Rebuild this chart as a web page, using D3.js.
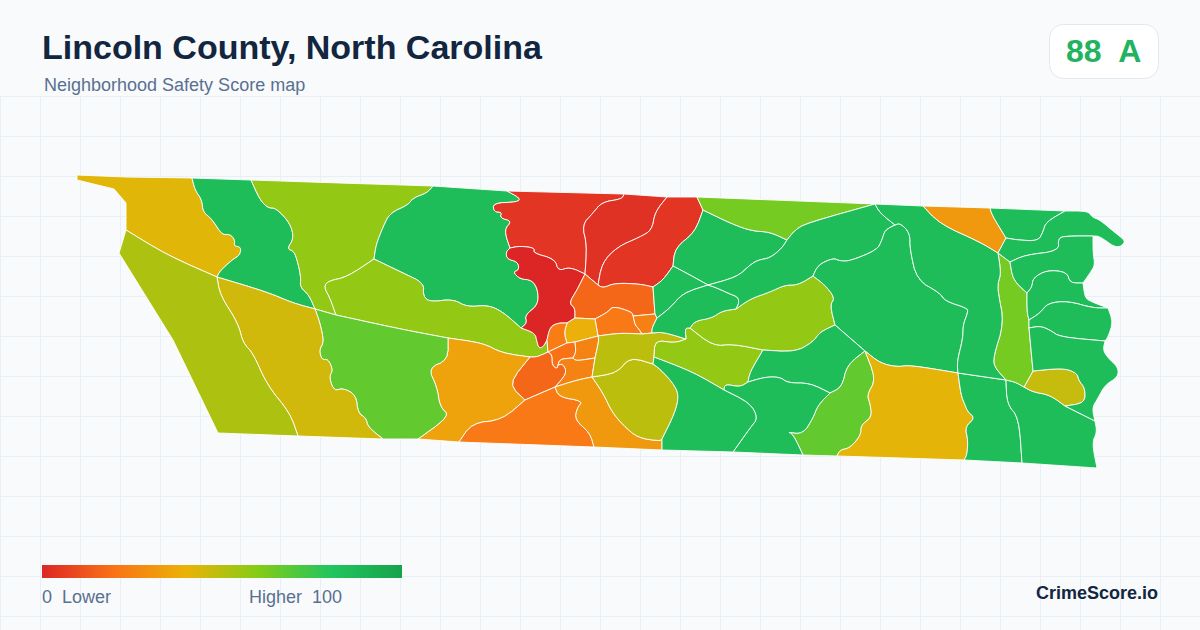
<!DOCTYPE html>
<html>
<head>
<meta charset="utf-8">
<script src="https://d3js.org/d3.v7.min.js"></script>
<style>
  html, body { margin: 0; padding: 0; background: #f8fafc; }
  svg { display: block; }
  text { font-family: "Liberation Sans", Arial, sans-serif; white-space: pre; }
</style>
</head>
<body>
<div id="chart"></div>
<script>
// legend / colour ramp
const legendStops = [0, 20, 40, 60, 80, 100];
const legendColors = ["#dc2626", "#f97316", "#eab308", "#84cc16", "#22c55e", "#16a34a"];

// ---- tract boundaries. X_Y is the line between tracts X and Y ----
// outer edge
const edge_A = [[126,230],[126,203],[114,189],[77,180],[77,175],[126,177],[192,178]];
const top_B = [[192,178],[251,180]];
const top_C = [[251,180],[340,183],[433,186]];
const top_D = [[433,186],[507,191]];
const top_F = [[507,191],[624,194]];
const top_H = [[624,194],[667,197]];
const top_I = [[667,197],[697,197]];
const top_AG = [[697,197],[875,204]];
const top_AT = [[875,204],[923,206]];
const top_AU = [[923,206],[990,208]];
const top_V1 = [[990,208],[1065,211]];
const edge_V2 = [[1065,211],[1088,211],[1092,217],[1100,220],[1113,231],[1122,238],[1125,242],[1120,247],[1113,246],[1105,240],[1098,236],[1093,236]];
const edge_AW = [[1093,236],[1093,253],[1095,265],[1090,273],[1083,283]];
const edge_AX = [[1083,283],[1085,298],[1092,302],[1108,308]];
const edge_AY = [[1108,308],[1113,322],[1108,337],[1105,341]];
const edge_AZ = [[1105,341],[1103,350],[1108,358],[1118,367],[1118,377],[1105,385],[1098,398],[1092,408],[1095,421]];
const edge_AQ = [[1095,421],[1097,432],[1092,443],[1097,468]];
const bot_AQ = [[1097,468],[1022,463]];
const bot_AP = [[1022,463],[964,460]];
const bot_AO = [[964,460],[837,456]];
const bot_AL = [[837,456],[803,455]];
const bot_AM = [[803,455],[733,452]];
const bot_AN = [[733,452],[662,450]];
const bot_Y = [[662,450],[594,447]];
const bot_X = [[594,447],[459,442]];
const bot_T = [[459,442],[418,439]];
const bot_U = [[418,439],[383,439]];
const bot_V = [[383,439],[298,436]];
const bot_W = [[298,436],[218,433]];
const edge_W = [[218,433],[173,340],[119,253],[123,240],[126,230]];

// west side
const A_W = [[126,230],[167,255],[217,277]];
const B_V = [[217,277],[267,292],[293,303],[315,309]];
const A_B = [[192,178],[195,190],[202,200],[203,212],[212,219],[222,235],[230,234],[235,240],[234,246],[241,247],[240,255],[232,260],[220,271],[217,277]];
const B_C = [[251,180],[260,200],[268,208],[276,208],[290,223],[294,238],[287,249],[294,251],[298,263],[301,278],[300,287],[309,295],[315,309]];
const V_W = [[217,277],[220,295],[238,323],[243,343],[253,353],[267,385],[290,413],[298,436]];
const U_V = [[315,309],[320,323],[324,342],[319,350],[322,360],[328,359],[333,370],[329,377],[334,391],[343,388],[356,395],[358,413],[366,418],[368,427],[383,439]];
const C_U = [[315,309],[336,315]];
const E_U = [[336,315],[400,329],[448,338]];
const E_T = [[448,338],[483,343],[502,353],[530,357]];
const E_S = [[530,357],[537,357],[548,352]];
const C_D = [[433,186],[427,193],[413,198],[408,205],[390,213],[383,227],[376,245],[374,259]];
const C_E = [[374,259],[347,277],[328,281],[324,287],[330,298],[336,315]];
const D_E = [[374,259],[403,273],[424,283],[423,296],[430,302],[453,299],[467,307],[488,305],[503,312],[521,328]];
const D_F = [[507,191],[520,198],[518,202],[493,203],[494,212],[502,212],[500,218],[512,221],[504,230],[510,248]];
const D_G = [[510,248],[506,252],[507,259],[518,262],[519,270],[513,272],[520,279],[532,280],[538,290],[538,305],[525,315],[527,323],[521,328]];
const F_G = [[510,248],[520,246],[535,248],[533,253],[555,259],[558,271],[570,267],[585,274]];
const E_G = [[521,328],[535,333],[537,342],[539,348],[543,347],[547,340]];
const E_N = [[547,340],[548,352]];
const G_N = [[547,340],[550,327],[558,323],[567,323]];
const G_M = [[567,323],[575,318]];
const G_J = [[575,318],[575,308],[569,303],[577,290],[585,274]];

// the red tracts and the town
const F_H = [[624,194],[622,199],[602,202],[593,213],[582,225],[587,245],[585,274]];
const H_I = [[667,197],[655,212],[652,230],[640,237],[617,247],[602,263],[598,285]];
const H_J = [[585,274],[598,285]];
const I_J = [[598,285],[603,288],[615,283],[640,284],[653,287]];
const I_AG = [[697,197],[703,210]];
const I_AE = [[703,210],[695,232],[675,248],[673,266]];
const I_AF = [[673,266],[663,280],[653,287]];
const J_AF = [[653,287],[655,314]];
const K_AF = [[655,314],[657,318]];
const J_K = [[633,316],[655,314]];
const J_L = [[595,319],[608,312],[613,306],[632,312],[633,316]];
const J_M = [[575,318],[595,319]];
const L_M = [[595,319],[598,336]];
const K_L = [[633,316],[635,325],[638,328],[642,334]];
const K_AH = [[657,318],[652,328],[652,333]];
const K_AA = [[652,333],[642,334]];
const L_AA = [[642,334],[620,333],[598,336]];
const M_N = [[567,323],[564,333],[567,343]];
const M_P = [[567,343],[575,342]];
const M_Q = [[575,342],[598,336]];
const N_P = [[548,352],[567,343]];
const P_Q = [[575,342],[576,352],[573,358]];
const P_R = [[573,358],[560,359],[558,365]];
const P_S = [[558,365],[557,369],[552,365],[552,355],[548,352]];
const Q_AA = [[598,336],[599,340],[595,358]];
const Q_R = [[595,358],[576,361],[573,358]];
const R_AA = [[595,358],[592,377]];
const R_Y = [[592,377],[577,380],[555,387]];
const R_S = [[555,387],[567,373],[563,364],[558,365]];
const S_X = [[555,387],[525,400]];
const S_T = [[525,400],[508,384],[530,357]];
const T_X = [[525,400],[502,420],[472,423],[459,442]];
const T_U = [[418,439],[450,416],[440,407],[437,387],[428,368],[448,360],[448,338]];
const AA_Z = [[592,377],[617,373],[630,357],[653,364]];
const AA_AN = [[653,364],[654,357]];
const AA_AB = [[654,357],[655,340],[675,343],[686,339]];
const AA_AH = [[686,339],[663,332],[652,333]];
const Z_AN = [[653,364],[660,369],[673,383],[679,395],[675,413],[662,439]];
const Y_Z = [[592,377],[603,393],[612,412],[623,425],[638,438],[660,441],[662,439]];
const Y_AN = [[662,439],[662,450]];
const X_Y = [[594,447],[590,433],[575,420],[577,408],[583,401],[559,397],[555,387]];

// east of the town
const AB_AH = [[686,339],[685,328],[690,328]];
const AB_AD = [[690,328],[713,346],[733,344],[763,350]];
const AB_AK = [[763,350],[750,372],[748,382]];
const AB_AM = [[748,382],[740,387],[725,384],[724,390]];
const AB_AN = [[724,390],[693,372],[654,357]];
const AD_AK = [[763,350],[795,352],[813,342],[820,332],[835,325]];
const AD_AJ = [[835,325],[830,305],[835,298],[825,285],[813,276]];
const AD_AI = [[813,276],[798,285],[785,285],[770,292],[750,299],[736,309]];
const AD_AH = [[736,309],[722,311],[712,318],[695,321],[690,328]];
const AE_AF = [[673,266],[690,275],[708,285]];
const AE_AI = [[708,285],[737,277],[750,265],[758,260],[770,258],[782,248],[787,240]];
const AE_AG = [[787,240],[770,232],[752,231],[732,224],[703,210]];
const AG_AI = [[875,204],[807,223],[795,230],[787,240]];
const AF_AH = [[708,285],[683,293],[670,308],[657,318]];
const AH_AI = [[736,309],[739,303],[738,297],[730,294],[717,288],[708,285]];
const AI_AT = [[875,204],[880,213],[895,225]];
const AI_AJ = [[895,225],[885,230],[882,240],[877,250],[850,261],[840,261],[833,258],[818,265],[813,276]];
const AJ_AK = [[835,325],[865,351]];
const AJ_AO = [[865,351],[880,363],[897,367],[910,365],[958,373]];
const AJ_AT = [[958,373],[957,362],[963,338],[963,325],[968,312],[967,308],[945,301],[940,293],[917,280],[910,250],[910,233],[900,223],[895,225]];
const AK_AM = [[748,382],[765,377],[780,377],[788,383],[810,383],[830,393]];
const AK_AL = [[830,393],[842,387],[847,365],[865,351]];
const AL_AO = [[865,351],[876,379],[867,395],[870,403],[872,417],[861,425],[861,435],[850,448],[840,450],[837,456]];
const AL_AM = [[803,455],[793,434],[787,432],[803,434],[813,418],[818,405],[830,393]];
const AM_AN = [[733,452],[750,428],[758,418],[750,403],[724,390]];
const AO_AP = [[958,373],[961,395],[965,405],[968,412],[975,418],[965,427],[968,440],[967,455],[964,460]];
const AP_AT = [[958,373],[1006,380]];
const AP_AQ = [[1006,380],[1007,404],[1019,418],[1022,463]];
const AQ_AZ = [[1095,421],[1065,406]];
const AQ_AR = [[1065,406],[1050,395],[1033,392],[1024,387]];
const AQ_AS = [[1024,387],[1015,382],[1006,380]];
const AR_AS = [[1024,387],[1033,371]];
const AR_AZ = [[1033,371],[1063,368],[1077,373],[1079,381],[1085,388],[1085,403],[1065,406]];
const AS_AT = [[1006,380],[995,368],[993,358],[1004,323],[998,292],[998,283],[1001,273],[998,253]];
const AS_V2 = [[998,253],[1010,262]];
const AS_AW = [[1010,262],[1013,280],[1027,293]];
const AS_AX = [[1027,293],[1027,312],[1029,320]];
const AS_AY = [[1029,320],[1029,328]];
const AS_AZ = [[1029,328],[1033,371]];
const AT_AU = [[923,206],[940,224],[980,242],[998,253]];
const AU_V1 = [[990,208],[992,215],[1006,238]];
const AU_V2 = [[1006,238],[998,253]];
const V1_V2 = [[1065,211],[1046,222],[1043,232],[1038,241],[1018,240],[1006,238]];
const V2_AW = [[1093,236],[1067,236],[1058,238],[1059,251],[1025,255],[1010,262]];
const AW_AX = [[1083,283],[1070,283],[1067,272],[1047,270],[1033,278],[1032,287],[1027,293]];
const AX_AY = [[1108,308],[1093,308],[1068,301],[1048,303],[1040,313],[1029,320]];
const AY_AZ = [[1105,341],[1060,337],[1050,330],[1040,326],[1029,328]];

// ---- tracts: score, and the lines round each one ----
const tractScores = [
  42, 85, 57, 85, 57, 4, 0, 3, 4, 17, 24, 22, 39, 23, 20, 25, 25, 17, 35, 67, 45, 52, 22, 32, 49,
  49, 57, 57, 85, 85, 63, 85, 85, 85, 85, 67, 85, 85, 41, 85, 85, 47, 63, 85, 32, 85, 85, 85, 85, 85, 85
];
const tractBounds = [
  [edge_A, top_B.slice(0, 1), A_B, A_W],                         // A
  [top_B, B_C, B_V, A_B],                                        // B
  [top_C, C_D, C_E, C_U, B_C],                                   // C
  [top_D, D_F, D_G, D_E, C_D],                                   // D
  [C_E, D_E, E_G, E_N, E_S, E_T, E_U],                           // E
  [top_F, F_H, F_G, D_F],                                        // F
  [F_G, G_J, G_M, G_N, E_G, D_G],                                // G
  [top_H, H_I, H_J, F_H],                                        // H
  [top_I, I_AG, I_AE, I_AF, I_J, H_I],                           // I
  [H_J, I_J, J_AF, J_K, J_L, J_M, G_J],                          // J
  [J_K, K_AF, K_AH, K_AA, K_L],                                  // K
  [J_L, K_L, L_AA, L_M],                                         // L
  [G_M, J_M, L_M, M_Q, M_P, M_N],                                // M
  [E_N, G_N, M_N, N_P],                                          // N
  [N_P, M_P, P_Q, P_R, P_S],                                     // P
  [M_Q, Q_AA, Q_R, P_Q],                                         // Q
  [P_R, R_S, R_Y, R_AA, Q_R],                                    // R
  [E_S, P_S, R_S, S_X, S_T],                                     // S
  [E_T, S_T, T_X, bot_T, T_U],                                   // T
  [C_U, E_U, T_U, bot_U, U_V],                                   // U
  [B_V, U_V, bot_V, V_W],                                        // V
  [A_W, V_W, bot_W, edge_W],                                     // W
  [bot_X, T_X, S_X, X_Y],                                        // X
  [Y_Z, Y_AN, bot_Y, X_Y, R_Y],                                  // Y
  [AA_Z, Z_AN, Y_Z],                                             // Z
  [K_AA, L_AA, Q_AA, R_AA, AA_Z, AA_AN, AA_AB, AA_AH],           // AA
  [AA_AB, AB_AH, AB_AD, AB_AK, AB_AM, AB_AN],                    // AB
  [AB_AD, AD_AK, AD_AJ, AD_AI, AD_AH],                           // AD
  [I_AE, AE_AF, AE_AI, AE_AG],                                   // AE
  [AE_AF, AF_AH, K_AF, J_AF, I_AF],                              // AF
  [top_AG, AG_AI, AE_AG, I_AG],                                  // AG
  [AF_AH, K_AH, AA_AH, AB_AH, AD_AH, AH_AI],                     // AH
  [AE_AI, AG_AI, AI_AT, AI_AJ, AD_AI, AH_AI],                    // AI
  [AI_AJ, AD_AJ, AJ_AK, AJ_AO, AJ_AT],                           // AJ
  [AB_AK, AK_AM, AK_AL, AJ_AK, AD_AK],                           // AK
  [AK_AL, AL_AO, bot_AL, AL_AM],                                 // AL
  [AK_AM, AL_AM, bot_AM, AM_AN, AB_AM],                          // AM
  [AB_AN, AA_AN, Z_AN, Y_AN, bot_AN, AM_AN],                     // AN
  [AJ_AO, AO_AP, bot_AO, AL_AO],                                 // AO
  [AP_AT, AP_AQ, bot_AP, AO_AP],                                 // AP
  [AP_AQ, bot_AQ, edge_AQ, AQ_AZ, AQ_AR, AQ_AS],                 // AQ
  [AQ_AR, AR_AS, AR_AZ],                                         // AR
  [AS_AT, AS_V2, AS_AW, AS_AX, AS_AY, AS_AZ, AR_AS, AQ_AS],      // AS
  [top_AT, AT_AU, AS_AT, AP_AT, AJ_AT, AI_AT],                   // AT
  [top_AU, AU_V1, AU_V2, AT_AU],                                 // AU
  [top_V1, V1_V2, AU_V1],                                        // V1
  [edge_V2, V2_AW, AS_V2, AU_V2, V1_V2],                         // V2
  [edge_AW, AW_AX, AS_AW, V2_AW],                                // AW
  [edge_AX, AX_AY, AS_AX, AW_AX],                                // AX
  [edge_AY, AY_AZ, AS_AY, AX_AY],                                // AY
  [edge_AZ, AQ_AZ, AR_AZ, AS_AZ, AY_AZ]                          // AZ
];
// these two have real corners, keep them sharp
const sharpLines = [edge_A, edge_W];

const width = 1200, height = 630;

const svg = d3.select("#chart").append("svg")
  .attr("width", width)
  .attr("height", height);

svg.append("rect")
  .attr("width", width)
  .attr("height", height)
  .attr("fill", "#f8fafc");

// background grid, only below the header
const grid = svg.append("g").attr("stroke", "#e9eff6").attr("stroke-width", 1);
grid.selectAll("line.v").data(d3.range(0, width + 1, 40)).enter().append("line")
  .attr("x1", d => d + 0.5).attr("x2", d => d + 0.5)
  .attr("y1", 96).attr("y2", height);
grid.selectAll("line.h").data(d3.range(96, height, 40)).enter().append("line")
  .attr("x1", 0).attr("x2", width)
  .attr("y1", d => d + 0.5).attr("y2", d => d + 0.5);

const color = d3.scaleLinear().domain(legendStops).range(legendColors).interpolate(d3.interpolateRgb);

// round the kinks of a line, ends stay put so neighbours still meet
function soften(line, passes) {
  let pts = line;
  for (let n = 0; n < passes; n++) {
    const out = [pts[0]];
    for (let i = 0; i < pts.length - 1; i++) {
      const a = pts[i], b = pts[i + 1];
      if (i > 0) out.push([a[0] + (b[0] - a[0]) * 0.25, a[1] + (b[1] - a[1]) * 0.25]);
      if (i < pts.length - 2) out.push([a[0] + (b[0] - a[0]) * 0.75, a[1] + (b[1] - a[1]) * 0.75]);
    }
    out.push(pts[pts.length - 1]);
    pts = out;
  }
  return pts;
}

// join the boundary lines into a closed ring, flipping each line as needed
function dist(a, b) { return Math.hypot(a[0] - b[0], a[1] - b[1]); }
function stitch(parts) {
  let ring = [];
  parts.forEach((p, i) => {
    let line = sharpLines.includes(p) ? p.slice() : soften(p, 2);
    if (i === 0) {
      const next = parts[1];
      const nearEnd = Math.min(dist(line[line.length - 1], next[0]), dist(line[line.length - 1], next[next.length - 1]));
      const nearStart = Math.min(dist(line[0], next[0]), dist(line[0], next[next.length - 1]));
      if (nearStart < nearEnd) line.reverse();
    } else {
      const last = ring[ring.length - 1];
      if (dist(line[line.length - 1], last) < dist(line[0], last)) line.reverse();
    }
    ring = ring.concat(line);
  });
  ring.push(ring[0]);
  return ring;
}

const tracts = tractBounds.map((parts, i) => ({
  type: "Feature",
  properties: { score: tractScores[i] },
  geometry: { type: "Polygon", coordinates: [stitch(parts)] }
}));

const path = d3.geoPath(d3.geoIdentity());

svg.append("g").selectAll("path")
  .data(tracts)
  .enter().append("path")
    .attr("d", path)
    .attr("fill", d => color(d.properties.score))
    .attr("stroke", "#ffffff")
    .attr("stroke-width", 0.9)
    .attr("stroke-linejoin", "round");

// header
svg.append("text").attr("x", 42).attr("y", 59)
  .attr("font-size", 34).attr("font-weight", 700).attr("fill", "#12263f")
  .text("Lincoln County, North Carolina");
svg.append("text").attr("x", 44).attr("y", 91)
  .attr("font-size", 18).attr("fill", "#5a7090")
  .text("Neighborhood Safety Score map");

// score badge
svg.append("rect")
  .attr("x", 1049.5).attr("y", 24.5).attr("width", 109).attr("height", 54).attr("rx", 14)
  .attr("fill", "#ffffff").attr("stroke", "#e2e8f0");
svg.append("text").attr("x", 1066).attr("y", 62)
  .attr("font-size", 32).attr("font-weight", 700).attr("fill", "#22b35e")
  .text("88  A");

// legend
const legendX = d3.scaleLinear().domain([0, 100]).range([42, 402]);
const grad = svg.append("defs").append("linearGradient").attr("id", "ramp");
grad.selectAll("stop").data(legendStops).enter().append("stop")
  .attr("offset", d => d + "%")
  .attr("stop-color", d => color(d));
svg.append("rect")
  .attr("x", legendX(0)).attr("y", 565)
  .attr("width", legendX(100) - legendX(0)).attr("height", 13)
  .attr("fill", "url(#ramp)");
svg.append("text").attr("x", 42).attr("y", 603)
  .attr("font-size", 18).attr("fill", "#5a7090")
  .text("0  Lower");
svg.append("text").attr("x", 342).attr("y", 603).attr("text-anchor", "end")
  .attr("font-size", 18).attr("fill", "#5a7090")
  .text("Higher  100");

svg.append("text").attr("x", 1158).attr("y", 599).attr("text-anchor", "end")
  .attr("font-size", 18).attr("font-weight", 700).attr("fill", "#12263f")
  .text("CrimeScore.io");
</script>
</body>
</html>
